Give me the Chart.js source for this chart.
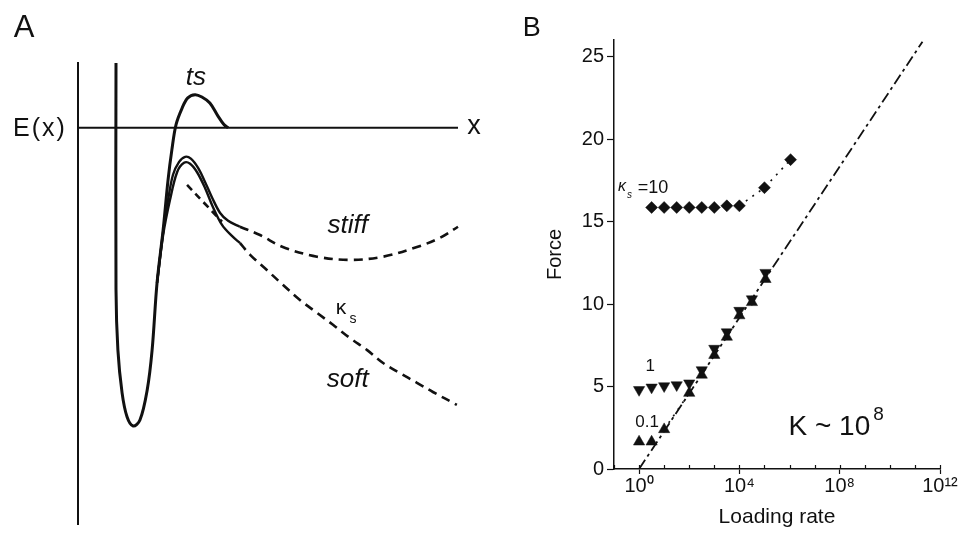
<!DOCTYPE html>
<html>
<head>
<meta charset="utf-8">
<script src="https://cdn.jsdelivr.net/npm/chart.js@4.4.1/dist/chart.umd.min.js"></script>
<style>
html, body { margin: 0; padding: 0; background: #fff; }
#wrap { position: relative; width: 959px; height: 538px; overflow: hidden; }
#boxA { position: absolute; left: 0; top: 0; width: 500px; height: 538px; }
#boxB { position: absolute; left: 500px; top: 0; width: 459px; height: 538px; }
</style>
</head>
<body>
<div id="wrap">
  <div id="boxA"><canvas id="chartA"></canvas></div>
  <div id="boxB"><canvas id="chartB"></canvas></div>
</div>
<script>
// ---- panel A: energy landscape E(x), schematic values ----
var tsX = [1.0, 1.0, 1.05, 1.16, 1.29, 1.45, 1.63, 1.82, 1.95, 2.08, 2.24, 2.37, 2.47, 2.58, 2.74, 2.89, 3.08, 3.26, 3.47, 3.68, 3.84, 3.95];
var tsE = [1.41, -3.52, -4.83, -5.76, -6.28, -6.48, -6.35, -5.70, -4.83, -3.37, -2.22, -1.13, -0.48, 0.07, 0.43, 0.65, 0.72, 0.67, 0.54, 0.26, 0.07, 0];

var stiffX = [2.08, 2.24, 2.37, 2.50, 2.66, 2.82, 2.97, 3.16, 3.34, 3.53, 3.74, 3.95, 4.26];
var stiffE = [-3.37, -2.26, -1.57, -1.02, -0.74, -0.63, -0.67, -0.87, -1.17, -1.52, -1.85, -2.02, -2.15];
var stiffTailX = [4.26, 4.79, 5.39, 6.29, 7.16, 8.03, 8.92, 9.53, 10.0];
var stiffTailE = [-2.15, -2.33, -2.59, -2.80, -2.87, -2.80, -2.59, -2.39, -2.15];

var softX = [2.08, 2.24, 2.42, 2.61, 2.79, 2.95, 3.13, 3.34, 3.55, 3.79, 4.05, 4.26];
var softE = [-3.37, -2.33, -1.57, -0.96, -0.76, -0.78, -0.96, -1.30, -1.72, -2.11, -2.35, -2.50];
var softTailX = [4.26, 4.53, 4.97, 5.39, 5.84, 6.29, 6.71, 7.16, 7.61, 8.03, 8.47, 8.92, 9.34, 9.97];
var softTailE = [-2.50, -2.76, -3.09, -3.41, -3.74, -4.02, -4.28, -4.57, -4.83, -5.11, -5.33, -5.54, -5.74, -6.02];
var kickX = [2.87, 3.34, 3.79];
var kickE = [-1.24, -1.65, -2.04];

// ---- panel B: rupture force vs loading rate ----
var k10Rate = [3.16, 10, 31.6, 100, 316, 1000, 3160, 10000, 1e5, 1.1e6];
var k10Force = [15.85, 15.85, 15.85, 15.85, 15.85, 15.85, 15.95, 15.95, 17.05, 18.75];
var k1Rate = [1, 3.16, 10, 31.6, 100, 316, 1000, 3160, 10000, 31600, 1.1e5];
var k1Force = [4.8, 4.95, 5.03, 5.09, 5.2, 6.0, 7.3, 8.3, 9.6, 10.3, 11.9];
var k01Rate = [1, 3.16, 10, 100, 316, 1000, 3160, 10000, 31600, 1.1e5];
var k01Force = [1.65, 1.65, 2.4, 4.6, 5.7, 6.9, 8.0, 9.3, 10.1, 11.5];
var fitRate = [1, 2e11];
var fitForce = [0, 25.9];

var xTickExps = [-1, 0, 1, 2, 3, 4, 5, 6, 7, 8, 9, 10, 11, 12];
var xLabelExps = [0, 4, 8, 12];
var yTicks = [0, 5, 10, 15, 20, 25];
var sup = { '0': '\u2070', '1': '\u00b9', '2': '\u00b2', '4': '\u2074', '8': '\u2078' };

function pts(xs, ys) {
    return xs.map(function(x, i) { return { x: x, y: ys[i] }; });
}

function toSup(n) {
    return String(n).split('').map(function(c) { return sup[c]; }).join('');
}

var ink = '#111';

// text drawn through the chart's own scales
function labelPlugin(items) {
    return {
        id: 'labels',
        afterDraw: function(chart) {
            var ctx = chart.ctx;
            var xs = chart.scales.x, ys = chart.scales.y;
            ctx.save();
            ctx.fillStyle = ink;
            items.forEach(function(t) {
                ctx.font = t.font;
                ctx.letterSpacing = t.spacing || '0px';
                ctx.textAlign = t.align || 'center';
                ctx.textBaseline = 'middle';
                var px = xs.getPixelForValue(t.x);
                var py = ys.getPixelForValue(t.y);
                ctx.fillText(t.text, px, py);
                if (t.sup) {
                    var w = ctx.measureText(t.text).width;
                    ctx.font = t.supFont;
                    ctx.textAlign = 'left';
                    ctx.fillText(t.sup, px + w + 3, py - t.supRise);
                }
            });
            ctx.restore();
        }
    };
}

var labelsA = [
    { text: 'A', x: -1.42, y: 2.15, font: '31px "Liberation Sans", Arial' },
    { text: 'E(x)', x: -1.0, y: -0.02, font: '25px "Liberation Sans", Arial', spacing: '2px' },
    { text: 'x', x: 10.42, y: 0.02, font: '27px "Liberation Sans", Arial' },
    { text: 'ts', x: 3.1, y: 1.09, font: 'italic 26px "Liberation Sans", Arial' },
    { text: 'stiff', x: 7.1, y: -2.13, font: 'italic 26px "Liberation Sans", Arial' },
    { text: '\u03ba', x: 6.92, y: -3.91, font: '21px "Liberation Sans", Arial' },
    { text: 's', x: 7.24, y: -4.15, font: '14px "Liberation Sans", Arial' },
    { text: 'soft', x: 7.1, y: -5.48, font: 'italic 26px "Liberation Sans", Arial' }
];

function lineSet(xs, ys, width, dash) {
    return {
        data: pts(xs, ys),
        showLine: true,
        borderColor: ink,
        borderWidth: width,
        borderDash: dash || [],
        pointRadius: 0,
        tension: 0.35,
        clip: false
    };
}

new Chart(document.getElementById('chartA'), {
    type: 'scatter',
    data: {
        datasets: [
            lineSet([0, 0], [-8.63, 1.43], 2),
            lineSet([0, 10], [0, 0], 2),
            lineSet(tsX, tsE, 3),
            lineSet(stiffX, stiffE, 2.4),
            lineSet(softX, softE, 2.4),
            lineSet(stiffTailX, stiffTailE, 2.6, [9, 6]),
            lineSet(softTailX, softTailE, 2.6, [9, 6]),
            lineSet(kickX, kickE, 2.6, [7, 5])
        ]
    },
    options: {
        responsive: true,
        maintainAspectRatio: false,
        animation: false,
        layout: { padding: { left: 78, right: 42, top: 62, bottom: 13 } },
        plugins: { legend: { display: false }, tooltip: { enabled: false } },
        scales: {
            x: { type: 'linear', min: 0, max: 10, display: false },
            y: { type: 'linear', min: -8.63, max: 1.43, display: false }
        }
    },
    plugins: [labelPlugin(labelsA)]
});

var labelsB = [
    { text: 'B', x: Math.pow(10, -4.28), y: 26.7, font: '27px "Liberation Sans", Arial' },
    { text: '\u03ba', x: Math.pow(10, -0.84), y: 17.1, font: 'italic 16px "Liberation Sans", Arial', align: 'left' },
    { text: 's', x: Math.pow(10, -0.48), y: 16.6, font: 'italic 10px "Liberation Sans", Arial', align: 'left' },
    { text: '=10', x: Math.pow(10, -0.05), y: 17.0, font: '18px "Liberation Sans", Arial', align: 'left' },
    { text: '1', x: Math.pow(10, 0.44), y: 6.2, font: '17px "Liberation Sans", Arial' },
    { text: '0.1', x: Math.pow(10, 0.32), y: 2.8, font: '17px "Liberation Sans", Arial' },
    { text: 'K ~ 10', x: Math.pow(10, 5.96), y: 2.55, font: '28px "Liberation Sans", Arial', align: 'left',
      sup: '8', supFont: '19px "Liberation Sans", Arial', supRise: 12 }
];

// short inward ticks at every decade on the rate axis
var minorTicks = {
    id: 'minorTicks',
    afterDraw: function(chart) {
        var ctx = chart.ctx, xs = chart.scales.x;
        var y0 = xs.top;
        ctx.save();
        ctx.strokeStyle = ink;
        ctx.lineWidth = 1.2;
        xTickExps.forEach(function(e) {
            var px = Math.round(xs.getPixelForValue(Math.pow(10, e))) + 0.5;
            ctx.beginPath();
            ctx.moveTo(px, y0);
            ctx.lineTo(px, y0 - 4);
            ctx.stroke();
        });
        ctx.restore();
    }
};

function markerSet(xs, ys, style, rotation, radius) {
    return {
        data: pts(xs, ys),
        pointStyle: style,
        rotation: rotation,
        pointRadius: radius,
        pointBackgroundColor: ink,
        pointBorderColor: ink,
        pointBorderWidth: 0.5,
        showLine: false
    };
}

var k10Set = markerSet(k10Rate, k10Force, 'rectRot', 0, 6);
k10Set.showLine = true;
k10Set.borderColor = ink;
k10Set.borderWidth = 1.6;
k10Set.borderDash = [2, 6];
k10Set.segment = { borderColor: function(c) { return c.p0DataIndex >= 7 ? ink : 'rgba(0,0,0,0)'; } };

var k01Set = markerSet(k01Rate, k01Force, 'triangle', 0, 6.5);
k01Set.showLine = true;
k01Set.borderColor = ink;
k01Set.borderWidth = 1.6;
k01Set.borderDash = [2, 6];
k01Set.segment = { borderColor: function(c) { return c.p0DataIndex === 2 ? ink : 'rgba(0,0,0,0)'; } };

new Chart(document.getElementById('chartB'), {
    type: 'scatter',
    data: {
        datasets: [
            {
                data: pts(fitRate, fitForce),
                showLine: true,
                borderColor: ink,
                borderWidth: 1.8,
                borderDash: [11, 4, 3, 4],
                pointRadius: 0
            },
            k10Set,
            markerSet(k1Rate, k1Force, 'triangle', 180, 6.5),
            k01Set
        ]
    },
    options: {
        responsive: true,
        maintainAspectRatio: false,
        animation: false,
        layout: { padding: { left: 0, right: 19, top: 40, bottom: 0 } },
        plugins: { legend: { display: false }, tooltip: { enabled: false } },
        scales: {
            x: {
                type: 'logarithmic',
                min: 0.1,
                max: 1e12,
                afterBuildTicks: function(scale) {
                    scale.ticks = xTickExps.map(function(e) { return { value: Math.pow(10, e) }; });
                },
                afterFit: function(scale) { scale.height = 69; },
                ticks: {
                    autoSkip: false,
                    maxRotation: 0,
                    padding: 0,
                    color: ink,
                    font: { family: '"Liberation Sans", Arial', size: 20 },
                    callback: function(v) {
                        var e = Math.round(Math.log10(v));
                        return xLabelExps.indexOf(e) >= 0 ? '10' + toSup(e) : '';
                    }
                },
                grid: {
                    drawOnChartArea: false,
                    tickLength: 5,
                    tickWidth: 1.2,
                    tickColor: function(c) {
                        var e = Math.round(Math.log10(c.tick.value));
                        return xLabelExps.indexOf(e) >= 0 ? ink : 'rgba(0,0,0,0)';
                    }
                },
                border: { color: ink, width: 1.5 },
                title: {
                    display: true,
                    text: 'Loading rate',
                    color: ink,
                    font: { family: '"Liberation Sans", Arial', size: 21 },
                    padding: { top: 0, bottom: 8 }
                }
            },
            y: {
                type: 'linear',
                min: 0,
                max: 26,
                afterBuildTicks: function(scale) {
                    scale.ticks = yTicks.map(function(v) { return { value: v }; });
                },
                afterFit: function(scale) { scale.width = 114; },
                ticks: {
                    padding: 3,
                    color: ink,
                    font: { family: '"Liberation Sans", Arial', size: 20 }
                },
                grid: { drawOnChartArea: false, tickLength: 7, tickWidth: 1.2, tickColor: ink },
                border: { color: ink, width: 1.5 },
                title: {
                    display: true,
                    text: 'Force',
                    color: ink,
                    font: { family: '"Liberation Sans", Arial', size: 20 },
                    padding: { top: 43, bottom: 0 }
                }
            }
        }
    },
    plugins: [labelPlugin(labelsB), minorTicks]
});
</script>
</body>
</html>
